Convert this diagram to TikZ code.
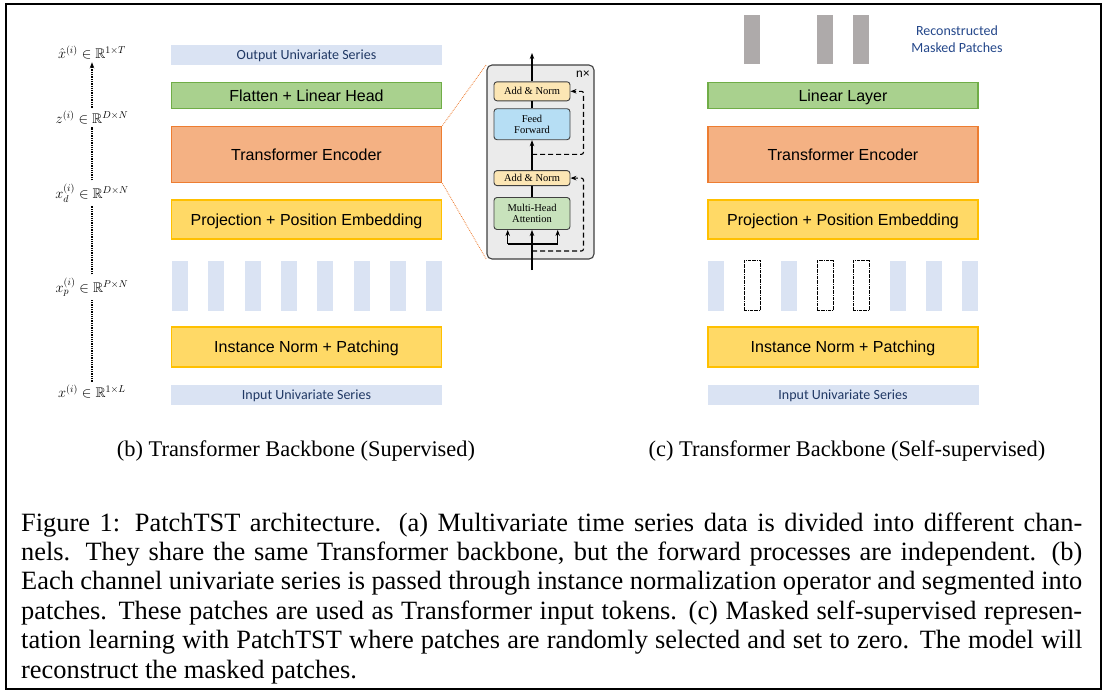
\documentclass[tikz,border=0pt]{standalone}
\usepackage{amssymb}
\usepackage{fontspec}
\setmainfont{Liberation Serif}
\newfontfamily\boxfont{Liberation Sans}
\newfontfamily\seriesfont{Carlito}
\usetikzlibrary{arrows.meta,positioning}

\definecolor{serieslight}{HTML}{DAE3F3}
\definecolor{seriestext}{HTML}{203864}
\definecolor{recontext}{HTML}{24478A}
\definecolor{headfill}{HTML}{A9D18E}
\definecolor{headdraw}{HTML}{70AD47}
\definecolor{encfill}{HTML}{F4B183}
\definecolor{encdraw}{HTML}{ED7D31}
\definecolor{projfill}{HTML}{FFD966}
\definecolor{projdraw}{HTML}{FFC000}
\definecolor{recongray}{HTML}{AEAAAA}
\definecolor{insetgray}{HTML}{EBEBEB}
\definecolor{normfill}{HTML}{FCE6B4}
\definecolor{fffill}{HTML}{B6DEF4}
\definecolor{attfill}{HTML}{C8E2BC}

\begin{document}
\begin{tikzpicture}[x=1pt, y=-1pt,
	>={Stealth[length=6pt,width=4.5pt]},
	seriesbar/.style={fill=serieslight, text=seriestext, font=\seriesfont\fontsize{14}{17}\selectfont, minimum width=271, minimum height=20, inner sep=0, text height=9pt, text depth=0pt},
	stagebox/.style={line width=1.8pt, minimum width=270, inner sep=0, font=\boxfont\fontsize{16}{18}\selectfont, text height=11.5pt, text depth=0pt},
	patchnode/.style={fill=serieslight, minimum width=16, minimum height=50, inner sep=0},
	maskednode/.style={draw, densely dash dot, line width=0.6pt, minimum width=16, minimum height=50, inner sep=0},
	reconnode/.style={fill=recongray, minimum width=16, minimum height=49, inner sep=0},
	layernode/.style={draw=black!75, line width=0.9pt, rounded corners=3pt, minimum width=76, inner sep=0, align=center, font=\fontsize{10.5}{11.5}\selectfont},
	dimlabel/.style={inner sep=3pt, anchor=base, font=\fontsize{14}{16}\selectfont},
	dimline/.style={densely dotted, line width=1.3pt},
	flowline/.style={line width=1.1pt},
	resline/.style={line width=1.1pt, dash pattern=on 5pt off 3pt, rounded corners=2pt, ->},
	zoomline/.style={draw=encdraw, densely dotted, line width=0.8pt},
	subcaptext/.style={font=\fontsize{22.4}{24}\selectfont},
	captext/.style={font=\fontsize{26.4}{29.4}\selectfont},
	]
	\useasboundingbox (0,0) rectangle (1109,694);
	\draw[line width=1.3pt] (6,4) rectangle (1101,689);
	
	%Supervised backbone
	\node[seriesbar] (outL) at (306.5,55) {Output Univariate Series};
	\node[stagebox, fill=headfill, draw=headdraw, minimum height=26] (headL) at (306.5,95.5) {Flatten + Linear Head};
	\node[stagebox, fill=encfill, draw=encdraw, minimum height=56] (encL) at (306.5,154.5) {Transformer Encoder};
	\node[stagebox, fill=projfill, draw=projdraw, minimum height=39.5] (projL) at (306.5,219.5) {Projection + Position Embedding};
	\foreach \k in {0,...,7}
		\node[patchnode] (pL\k) at (180+36.3*\k,285.5) {};
	\node[stagebox, fill=projfill, draw=projdraw, minimum height=40] (normL) at (306.5,346.7) {Instance Norm + Patching};
	\node[seriesbar] (inL) at (306.5,395) {Input Univariate Series};
	
	%Dimensions
	\node[dimlabel] (dHat) at (92,58.5)  {$\hat{x}^{(i)} \in \mathbb{R}^{1\times T}$};
	\node[dimlabel] (dZ)   at (92,123.5) {$z^{(i)} \in \mathbb{R}^{D\times N}$};
	\node[dimlabel] (dD)   at (92,198.5) {$x_d^{(i)} \in \mathbb{R}^{D\times N}$};
	\node[dimlabel] (dP)   at (92,292.5) {$x_p^{(i)} \in \mathbb{R}^{P\times N}$};
	\node[dimlabel] (dX)   at (92,397.5) {$x^{(i)} \in \mathbb{R}^{1\times L}$};
	\draw[dimline] (dX) -- (dP);
	\draw[dimline] (dP) -- (dD);
	\draw[dimline] (dD) -- (dZ);
	\draw[dimline, ->] (dZ) -- (dHat);
	
	%Encoder detail
	\node[draw=black!75, line width=1.1pt, fill=insetgray, rounded corners=5pt, minimum width=107, minimum height=194] (inset) at (540.5,162) {};
	\node[font=\boxfont\fontsize{12}{12}\selectfont, anchor=east, inner sep=0] (nTimes) at (590,74) {n×};
	\node[layernode, fill=attfill, minimum height=32] (mha) at (532,213.5) {Multi-Head\\Attention};
	\node[layernode, fill=normfill, minimum height=15, above=11pt of mha] (an1) {Add \& Norm};
	\node[layernode, fill=fffill, minimum height=31, above=30pt of an1] (ff) {Feed\\Forward};
	\node[layernode, fill=normfill, minimum height=19, above=7pt of ff] (an2) {Add \& Norm};
	\coordinate (inBottom) at (532,270);
	\coordinate (outTop) at (532,53);
	\coordinate (forkL) at (507.7,244);
	\coordinate (forkM) at (532,244);
	\coordinate (forkR) at (557.7,244);
	\coordinate (res1) at (532,251);
	\coordinate (res2) at (532,154.3);
	\draw[flowline] (inBottom) -- (forkM);
	\draw[flowline] (forkL) -- (forkR);
	\draw[flowline, ->] (forkL) -- (forkL |- mha.south);
	\draw[flowline, ->] (forkM) -- (mha.south);
	\draw[flowline, ->] (forkR) -- (forkR |- mha.south);
	\draw[flowline] (mha) -- (an1);
	\draw[flowline, ->] (an1) -- (ff);
	\draw[flowline] (ff) -- (an2);
	\draw[flowline, ->] (an2) -- (outTop);
	\draw[resline] (res1) -| ([xshift=13pt]an1.east) -- (an1.east);
	\draw[resline] (res2) -| ([xshift=13pt]an2.east) -- (an2.east);
	\draw[zoomline] (encL.north east) -- (inset.north west);
	\draw[zoomline] (encL.south east) -- (inset.south west);
	
	%Self-supervised backbone
	\foreach \k in {1,3,4}
		\node[reconnode] (rR\k) at (716+36.3*\k,39.5) {};
	\node[text=recontext, font=\seriesfont\fontsize{14}{17}\selectfont, align=center, inner sep=0] (reconR) at (957,39) {Reconstructed\\Masked Patches};
	\node[stagebox, fill=headfill, draw=headdraw, minimum height=26] (linR) at (843,95.5) {Linear Layer};
	\node[stagebox, fill=encfill, draw=encdraw, minimum height=56] (encR) at (843,154.5) {Transformer Encoder};
	\node[stagebox, fill=projfill, draw=projdraw, minimum height=39.5] (projR) at (843,219.5) {Projection + Position Embedding};
	\foreach \k in {0,2,5,6,7}
		\node[patchnode] (pR\k) at (716+36.3*\k,285.5) {};
	\foreach \k in {1,3,4}
		\node[maskednode] (pR\k) at (716+36.3*\k,285.5) {};
	\node[stagebox, fill=projfill, draw=projdraw, minimum height=40] (normR) at (843,346.7) {Instance Norm + Patching};
	\node[seriesbar] (inR) at (843,395) {Input Univariate Series};
	
	%Captions
	\node[subcaptext] (capB) at (296,451) {(b) Transformer Backbone (Supervised)};
	\node[subcaptext] (capC) at (847,451) {(c) Transformer Backbone (Self-supervised)};
	\node[captext, anchor=base west, inner sep=0] (caption) at (21,531) {\parbox[t]{1061pt}{Figure 1: PatchTST architecture. (a) Multivariate time series data is divided into different chan-\linebreak nels. They share the same Transformer backbone, but the forward processes are independent. (b)\linebreak Each channel univariate series is passed through instance normalization operator and segmented into\linebreak patches. These patches are used as Transformer input tokens. (c) Masked self-supervised represen-\linebreak tation learning with PatchTST where patches are randomly selected and set to zero. The model will\linebreak reconstruct the masked patches.}};
\end{tikzpicture}
\end{document}
